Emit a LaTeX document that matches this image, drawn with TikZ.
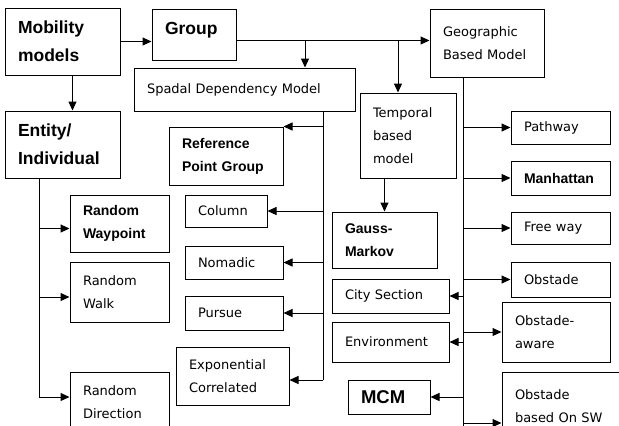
\documentclass[tikz,border=0pt]{standalone}
\usepackage{fontspec}
\setmainfont{DejaVu Sans}
\newfontfamily\hdfont{Liberation Sans}
\usetikzlibrary{arrows.meta}

\begin{document}
\begin{tikzpicture}[x=1pt,y=-1pt,
    bx/.style={draw,line width=1pt,inner xsep=13pt,inner ysep=2pt,align=left,font=\fontsize{13}{23}\selectfont},
    big/.style={font=\hdfont\fontsize{17.5}{28}\selectfont\bfseries},
    bld/.style={font=\hdfont\fontsize{14}{23}\selectfont\bfseries},
    arr/.style={line width=1pt,-{Triangle[length=9pt,width=8pt]}},
    ln/.style={line width=1pt}]
            \useasboundingbox (0,0) rectangle (619,426);
            \node[bx,big,text width=89pt,minimum height=67pt] (mob) at (62.5,41.5) {Mobility\\models};
            \node[bx,big,text width=58pt,minimum height=51pt,text depth=11.5pt] (grp) at (194,34.5) {Group};
            \node[bx,text width=195pt,minimum height=43pt] (spd) at (244.5,89.5) {Spadal Dependency Model};
            \node[bx,big,text width=89pt,minimum height=67pt] (ent) at (62.5,144.5) {Entity/\\Individual};
            \node[bx,text width=88pt,minimum height=68pt] (geo) at (487,43) {Geographic\\Based Model};
            \node[bx,text width=70pt,minimum height=85pt] (tmp) at (408,135.5) {Temporal\\based\\model};

            % group / spatial side
            \node[bx,bld,text width=88pt,minimum height=58pt] (rpg) at (226,156) {Reference\\Point Group};
            \node[bx,text width=56pt,minimum height=32pt] (col) at (226,211) {Column};
            \node[bx,text width=72pt,minimum height=33pt] (nom) at (234,262.5) {Nomadic};
            \node[bx,text width=72pt,minimum height=34pt] (pur) at (234,313) {Pursue};
            \node[bx,text width=87pt,minimum height=58pt] (exc) at (232.5,376) {Exponential\\Correlated};

            % entity side
            \node[bx,bld,text width=73pt,minimum height=57pt] (rwp) at (119.5,223.5) {Random\\Waypoint};
            \node[bx,text width=73pt,minimum height=60pt] (rwk) at (119.5,292) {Random\\Walk};
            \node[bx,text width=73pt,minimum height=60pt] (rdr) at (119.5,402) {Random\\Direction};

            % temporal / geographic side
            \node[bx,bld,text width=79pt,minimum height=56pt] (gmk) at (384.5,240) {Gauss-\\Markov};
            \node[bx,text width=91pt,minimum height=34pt] (cty) at (390.5,296) {City Section};
            \node[bx,text width=91pt,minimum height=40pt] (env) at (390.5,342) {Environment};
            \node[bx,font=\hdfont\fontsize{18.5}{23}\selectfont\bfseries,text width=56pt,minimum height=34pt] (mcm) at (389,397) {MCM};
            \node[bx,text width=73pt,minimum height=33pt] (pth) at (560.5,127.5) {Pathway};
            \node[bx,bld,text width=73pt,minimum height=34pt] (man) at (560.5,178) {Manhattan};
            \node[bx,text width=73pt,minimum height=32pt] (frw) at (560.5,228) {Free way};
            \node[bx,text width=73pt,minimum height=35pt] (obs) at (560.5,279.5) {Obstade};
            \node[bx,text width=82pt,minimum height=60pt] (oba) at (556,332) {Obstade-\\aware};
            \node[bx,text width=102pt,minimum height=68pt] (obw) at (566,406) {Obstade\\based On SW};

            \coordinate (sb) at (305,0); \coordinate (tb) at (398,0);
            \coordinate (sx) at (323,0); \coordinate (ex) at (39,0); \coordinate (gx) at (463,0);

            \draw[arr] (mob.east) -- (mob.east -| grp.west);
            \draw[arr] ([xshift=10pt]mob.south) -- ([xshift=10pt]ent.north);
            \draw[arr] ([yshift=-6pt]grp.east) coordinate (g0) -- (g0 -| geo.west);
            \draw[arr] (g0 -| sb) -- (sb |- spd.north); \draw[arr] (g0 -| tb) -- (tb |- tmp.north);

            \draw[ln] (spd.south -| sx) -- ([yshift=-4pt]exc.east -| sx);
            \draw[arr] (rpg.north east -| sx) -- (rpg.north east); \draw[arr] (col.east -| sx) -- (col.east); \draw[arr] (nom.east -| sx) -- (nom.east); \draw[arr] (pur.east -| sx) -- (pur.east); \draw[arr] ([yshift=-4pt]exc.east -| sx) -- ([yshift=-4pt]exc.east);

            \draw[ln] (ent.south -| ex) -- ([yshift=5pt]rdr.west -| ex);
            \draw[arr] ([yshift=-5pt]rwp.west -| ex) -- ([yshift=-5pt]rwp.west); \draw[arr] ([yshift=-5pt]rwk.west -| ex) -- ([yshift=-5pt]rwk.west); \draw[arr] ([yshift=5pt]rdr.west -| ex) -- ([yshift=5pt]rdr.west);

            \draw[arr] (gmk.north |- tmp.south) -- (gmk.north);

            \draw[ln] (geo.south -| gx) -- (obw.south -| gx);
            \draw[arr] (pth.west -| gx) -- (pth.west); \draw[arr] (man.west -| gx) -- (man.west); \draw[arr] (frw.west -| gx) -- (frw.west); \draw[arr] (obs.west -| gx) -- (obs.west); \draw[arr] (oba.west -| gx) -- (oba.west);
            \draw[arr] ([yshift=-17pt]obw.west -| gx) -- ([yshift=-17pt]obw.west);
            \draw[arr] (cty.east -| gx) -- (cty.east); \draw[arr] (env.east -| gx) -- (env.east); \draw[arr] (mcm.east -| gx) -- (mcm.east);
        \end{tikzpicture}
\end{document}
